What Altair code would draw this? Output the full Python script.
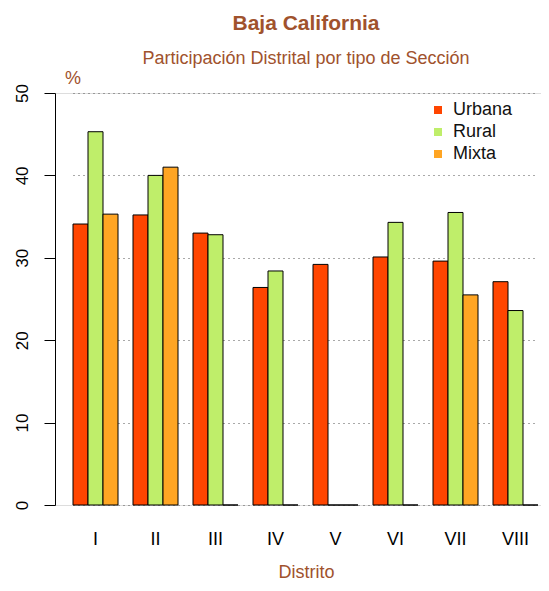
import altair as alt
import pandas as pd

distritos = ["I", "II", "III", "IV", "V", "VI", "VII", "VIII"]
tipos = ["Urbana", "Rural", "Mixta"]
urbana = [34.1, 35.2, 33.0, 26.4, 29.2, 30.1, 29.6, 27.1]
rural = [45.3, 40.0, 32.8, 28.4, 0.0, 34.3, 35.5, 23.6]
mixta = [35.3, 41.0, 0.0, 0.0, 0.0, 0.0, 25.5, 0.0]
colores = ["#FF4500", "#BFEE6A", "#FFA523"]
y_ticks = [0, 10, 20, 30, 40, 50]

titulo = "Baja California"
subtitulo = "Participación Distrital por tipo de Sección"
eje_y = "%"
eje_x = "Distrito"

rows = []
for i, d in enumerate(distritos):
    for t, serie in zip(tipos, [urbana, rural, mixta]):
        rows.append({"Distrito": d, "Tipo": t, "Valor": serie[i]})
df = pd.DataFrame(rows)

W, H = 486, 412
FONT = "Liberation Sans"
SIENNA = "#A0522D"

bars = alt.Chart(df).mark_bar(stroke="black", strokeWidth=1).encode(
    x=alt.X(
        "Distrito:N",
        sort=distritos,
        scale=alt.Scale(range=[18, 483], paddingInner=0.25, paddingOuter=0),
        axis=alt.Axis(
            title=eje_x, labelAngle=0, domain=False, ticks=False, tickSize=0,
            labelPadding=39, labelBaseline="alphabetic", labelFontSize=18,
            labelColor="black", labelFont=FONT, titleFont=FONT, titleFontSize=18,
            titleFontWeight="normal", titleColor=SIENNA, titleX=251, titleY=72,
            titleBaseline="alphabetic", titleAlign="center", grid=False,
        ),
    ),
    xOffset=alt.XOffset("Tipo:N", sort=tipos,
                        scale=alt.Scale(paddingInner=0, paddingOuter=0)),
    y=alt.Y(
        "Valor:Q",
        scale=alt.Scale(domain=[0, 50], nice=False),
        axis=alt.Axis(
            title=None, values=y_ticks, tickSize=11, labelAngle=-90,
            labelAlign="center", labelBaseline="middle", labelPadding=22,
            grid=True, gridDash=[1, 4], gridColor="#555", gridWidth=1.2,
            domainColor="black", tickColor="black", labelFontSize=17,
            labelColor="black", labelFont=FONT,
        ),
    ),
    color=alt.Color(
        "Tipo:N", sort=tipos,
        scale=alt.Scale(domain=tipos, range=colores),
        legend=alt.Legend(
            title=None, orient="none", legendX=374, legendY=8,
            symbolType="square", symbolSize=64, symbolStrokeWidth=0,
            labelFontSize=18, labelFont=FONT, labelColor="#111",
            labelOffset=6, rowPadding=4, symbolOpacity=1, padding=0,
        ),
    ),
)

t1 = alt.Chart(pd.DataFrame({"t": [titulo]})).mark_text(
    font=FONT, fontSize=21, fontWeight="bold", color=SIENNA,
    align="center", baseline="alphabetic",
).encode(text="t:N", x=alt.value(251), y=alt.value(-63))

t2 = alt.Chart(pd.DataFrame({"t": [subtitulo]})).mark_text(
    font=FONT, fontSize=18, color=SIENNA, align="center", baseline="alphabetic",
).encode(text="t:N", x=alt.value(251), y=alt.value(-29))

t3 = alt.Chart(pd.DataFrame({"t": [eje_y]})).mark_text(
    font=FONT, fontSize=18, color=SIENNA, align="center", baseline="alphabetic",
).encode(text="t:N", x=alt.value(18), y=alt.value(-9))

chart = alt.layer(bars, t1, t2, t3).properties(
    width=W, height=H,
    autosize=alt.AutoSizeParams(type="none"),
    padding={"left": 47, "top": 85, "right": 0, "bottom": 78},
).configure_view(stroke=None).configure(font=FONT)

chart.save("out.html", embed_options={"renderer": "svg", "actions": False})
